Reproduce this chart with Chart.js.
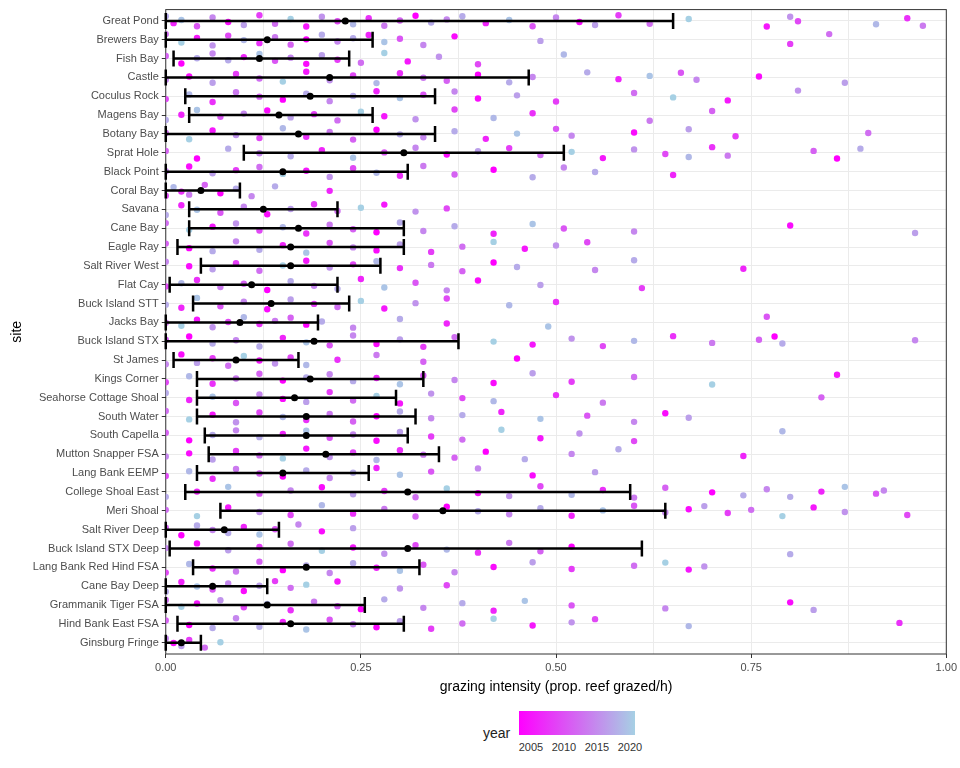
<!DOCTYPE html>
<html><head><meta charset="utf-8">
<script src="https://cdn.jsdelivr.net/npm/chart.js@4.4.1/dist/chart.umd.min.js"></script>
<style>body{margin:0;background:#fff;font-family:"Liberation Sans",Arial,sans-serif}#w{position:relative;width:960px;height:768px}
#leg{position:absolute;left:483px;top:711px;font-size:14px;color:#222}
#leg .t{position:absolute;left:0;top:14px}
#leg .bar{position:absolute;left:36px;top:0;width:116px;height:24px;background:linear-gradient(to right,#ff00ff,#a6d0e4)}
#leg .l{position:absolute;top:30px;font-size:11px;color:#333;width:40px;text-align:center}</style></head>
<body><div id="w"><canvas id="c" width="960" height="700"></canvas>
<div id="leg"><span class="t">year</span><div class="bar"></div>
<span class="l" style="left:28px">2005</span><span class="l" style="left:61px">2010</span><span class="l" style="left:94px">2015</span><span class="l" style="left:127px">2020</span></div></div>
<script>
const sites=["Great Pond","Brewers Bay","Fish Bay","Castle","Coculus Rock","Magens Bay","Botany Bay","Sprat Hole","Black Point","Coral Bay","Savana","Cane Bay","Eagle Ray","Salt River West","Flat Cay","Buck Island STT","Jacks Bay","Buck Island STX","St James","Kings Corner","Seahorse Cottage Shoal","South Water","South Capella","Mutton Snapper FSA","Lang Bank EEMP","College Shoal East","Meri Shoal","Salt River Deep","Buck Island STX Deep","Lang Bank Red Hind FSA","Cane Bay Deep","Grammanik Tiger FSA","Hind Bank East FSA","Ginsburg Fringe"];
const means=[.23,.13,.12,.21,.185,.145,.17,.305,.15,.045,.125,.17,.16,.16,.11,.135,.095,.19,.09,.185,.165,.18,.18,.205,.15,.31,.355,.075,.31,.18,.06,.13,.16,.02];
const lows=[0,0,.01,0,.025,.03,0,.10,0,0,.03,.03,.015,.045,.005,.035,0,0,.01,.04,.04,.04,.05,.055,.04,.025,.07,0,.005,.035,0,0,.015,0];
const highs=[.65,.265,.235,.465,.345,.265,.345,.51,.31,.095,.22,.305,.305,.275,.22,.235,.195,.375,.17,.33,.295,.32,.31,.35,.26,.595,.64,.145,.61,.325,.13,.255,.305,.045];
const points=[
[0,.01,.02,.04,.06,.08,.1,.12,.14,.16,.18,.2,.22,.24,.26,.28,.3,.32,.34,.36,.38,.41,.44,.47,.5,.53,.55,.58,.62,.67,.77,.8,.81,.91,.95,.97],
[0,.02,.04,.06,.08,.1,.12,.14,.16,.18,.2,.22,.24,.26,.28,.3,.33,.37,.48,.8,.85],
[0,.02,.04,.06,.08,.1,.12,.14,.16,.18,.2,.22,.25,.28,.31,.35,.4,.51],
[0,.03,.06,.09,.12,.15,.18,.21,.24,.27,.3,.33,.36,.4,.44,.47,.54,.58,.62,.66,.68,.76,.87],
[0,.03,.06,.09,.12,.15,.18,.21,.24,.27,.3,.33,.37,.4,.45,.5,.6,.65,.72,.81],
[0,.02,.04,.07,.1,.13,.16,.19,.22,.25,.28,.32,.37,.42,.47,.62,.7],
[0,.03,.06,.09,.12,.15,.18,.21,.24,.27,.3,.33,.37,.41,.45,.5,.52,.6,.67,.73,.9],
[0,.04,.08,.12,.16,.2,.24,.28,.32,.36,.4,.44,.48,.52,.56,.6,.64,.67,.7,.72,.83,.86,.89],
[0,.03,.06,.09,.12,.15,.18,.21,.24,.27,.3,.33,.37,.42,.47,.51,.55,.65],
[0,.01,.02,.03,.05,.07,.09,.11,.14,.21],
[0,.02,.04,.07,.1,.13,.16,.19,.22,.25,.28,.32,.36],
[0,.03,.06,.09,.12,.15,.18,.21,.24,.27,.3,.33,.37,.42,.47,.51,.6,.8,.96],
[0,.03,.06,.09,.12,.15,.18,.21,.24,.27,.3,.34,.38,.42,.46,.5,.54],
[0,.03,.06,.09,.12,.15,.18,.21,.24,.27,.3,.34,.38,.42,.45,.55,.6,.74],
[0,.02,.04,.07,.1,.13,.16,.19,.22,.25,.28,.32,.36,.4,.48,.61],
[0,.02,.04,.07,.1,.13,.16,.19,.22,.25,.28,.32,.36,.44,.5],
[0,.02,.04,.06,.08,.1,.12,.14,.16,.18,.2,.24,.3,.36,.49,.77],
[0,.03,.06,.09,.12,.15,.18,.21,.24,.27,.3,.33,.37,.42,.47,.52,.56,.6,.65,.7,.76,.78,.79,.96],
[0,.02,.04,.06,.08,.1,.12,.14,.16,.18,.22,.27,.33,.45],
[0,.03,.06,.09,.12,.15,.18,.21,.24,.27,.3,.33,.37,.42,.47,.52,.6,.7,.86],
[0,.03,.06,.09,.12,.15,.18,.21,.24,.27,.3,.34,.38,.42,.5,.56,.84],
[0,.03,.06,.09,.12,.15,.18,.21,.24,.27,.3,.34,.38,.43,.48,.54,.6,.64,.67],
[0,.03,.06,.09,.12,.15,.18,.21,.24,.27,.3,.34,.38,.43,.48,.53,.6,.79],
[0,.03,.06,.09,.12,.15,.18,.21,.24,.27,.3,.33,.37,.41,.46,.52,.58,.74],
[0,.03,.06,.09,.12,.15,.18,.21,.24,.27,.3,.34,.4,.47,.55],
[0,.04,.08,.12,.16,.2,.24,.28,.32,.36,.4,.44,.48,.52,.56,.6,.64,.7,.74,.77,.8,.84,.87,.91,.92],
[0,.04,.08,.12,.16,.2,.24,.28,.32,.36,.4,.44,.48,.52,.56,.6,.64,.67,.69,.72,.75,.79,.83,.87,.95],
[0,.02,.04,.06,.08,.1,.12,.14,.17,.2,.24],
[0,.04,.08,.12,.16,.2,.24,.28,.32,.36,.4,.44,.48,.52,.8],
[0,.03,.06,.09,.12,.15,.18,.21,.24,.27,.3,.33,.37,.42,.47,.52,.6,.64,.67,.69],
[0,.02,.04,.06,.08,.1,.12,.14,.16,.18,.22,.3,.36],
[0,.02,.04,.07,.1,.13,.16,.19,.22,.25,.28,.33,.38,.42,.46,.52,.64,.8,.83],
[0,.03,.06,.09,.12,.15,.18,.21,.24,.27,.3,.34,.38,.42,.47,.52,.55,.67,.94],
[0,.01,.02,.03,.05,.07]
];
const yearCycle=[2019,2008,2021,2012,2016,2006,2018,2010,2014,2022,2007,2017,2011,2020,2009,2015,2013,2005,2019,2016];
const jitter=[-.25,.12,-.05,.28,-.18,.06,.22,-.3,.15,-.1,.3,-.22,.02,.18,-.14,.26,-.02,-.27,.09,-.08];
const xTicks=[0,.25,.5,.75,1];
function col(y){const t=Math.min(1,Math.max(0,(y-2005)/17));const a=[255,0,255],b=[166,208,228];return `rgb(${a.map((v,i)=>Math.round(v+(b[i]-v)*t)).join(',')})`;}
const pts=[],cols=[];
points.forEach((arr,si)=>arr.forEach((x,i)=>{const k=(i+si*7)%20;pts.push({x:x,y:si+jitter[k]});cols.push(col(yearCycle[(k+si)%20]));}));
const errPlugin={id:'err',afterDatasetsDraw(ch){const{ctx,scales:{x,y}}=ch;ctx.save();ctx.strokeStyle='#000';ctx.lineWidth=2.5;
sites.forEach((s,i)=>{const py=y.getPixelForValue(i),x1=x.getPixelForValue(lows[i]),x2=x.getPixelForValue(highs[i]);ctx.beginPath();ctx.moveTo(x1,py);ctx.lineTo(x2,py);ctx.moveTo(x1,py-8);ctx.lineTo(x1,py+8);ctx.moveTo(x2,py-8);ctx.lineTo(x2,py+8);ctx.stroke();});
ctx.fillStyle='#000';sites.forEach((s,i)=>{ctx.beginPath();ctx.arc(x.getPixelForValue(means[i]),y.getPixelForValue(i),3.5,0,7);ctx.fill();});
ctx.restore();},
beforeDatasetsDraw(ch){const{ctx,chartArea:a}=ch;ctx.save();ctx.strokeStyle='#333';ctx.lineWidth=1;ctx.strokeRect(a.left,a.top,a.right-a.left,a.bottom-a.top);ctx.restore();}};
new Chart(document.getElementById('c'),{type:'scatter',
data:{datasets:[{data:pts,pointBackgroundColor:cols,pointBorderWidth:0,pointRadius:3.2}]},
options:{responsive:false,animation:false,layout:{padding:{left:5,right:8,top:0,bottom:0}},
plugins:{legend:{display:false},tooltip:{enabled:false}},
scales:{x:{min:0,max:1,ticks:{stepSize:.125,autoSkip:false,color:'#4d4d4d',font:{size:11},maxRotation:0,callback:v=>xTicks.some(t=>Math.abs(t-v)<1e-6)?v.toFixed(2):''},
grid:{color:'#ebebeb',tickColor:c=>c.tick&&xTicks.some(t=>Math.abs(t-c.tick.value)<1e-6)?'#333':'rgba(0,0,0,0)',tickLength:4},border:{display:false},
title:{display:true,text:'grazing intensity (prop. reef grazed/h)',color:'#000',font:{size:14},padding:{top:2}}},
y:{min:-.6,max:33.6,reverse:true,afterBuildTicks:ax=>{ax.ticks=sites.map((s,i)=>({value:i}));},
ticks:{autoSkip:false,color:'#4d4d4d',font:{size:11},callback:v=>sites[v]},
grid:{color:'#ebebeb',tickColor:'#333',tickLength:4},border:{display:false},
title:{display:true,text:'site',color:'#000',font:{size:14}}}}},
plugins:[errPlugin]});
</script></body></html>
